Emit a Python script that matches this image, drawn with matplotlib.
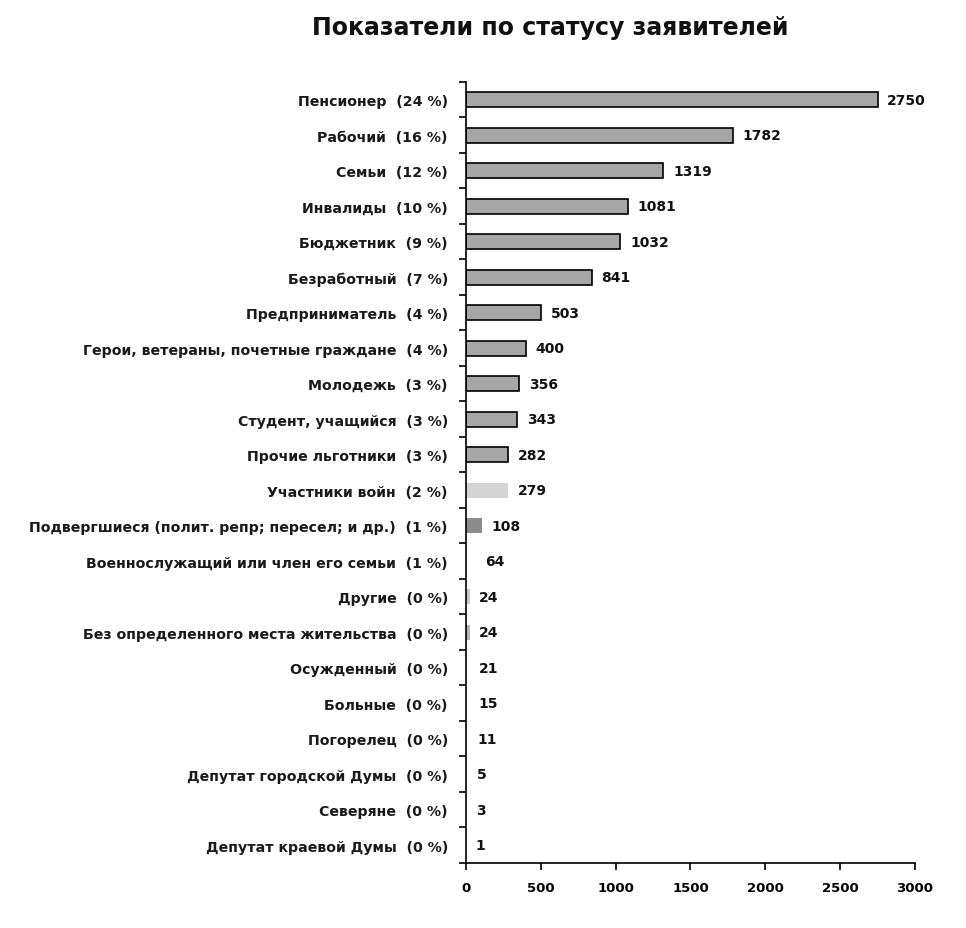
import numpy as np
import matplotlib.pyplot as plt

plt.rcParams['font.family'] = ['DejaVu Sans']

categories = [
    "Пенсионер", "Рабочий", "Семьи", "Инвалиды", "Бюджетник", "Безработный",
    "Предприниматель", "Герои, ветераны, почетные граждане", "Молодежь",
    "Студент, учащийся", "Прочие льготники", "Участники войн",
    "Подвергшиеся (полит. репр; пересел; и др.)",
    "Военнослужащий или член его семьи", "Другие",
    "Без определенного места жительства", "Осужденный", "Больные",
    "Погорелец", "Депутат городской Думы", "Северяне", "Депутат краевой Думы",
]
percents = [24, 16, 12, 10, 9, 7, 4, 4, 3, 3, 3, 2, 1, 1, 0, 0, 0, 0, 0, 0, 0, 0]
values = [2750, 1782, 1319, 1081, 1032, 841, 503, 400, 356, 343, 282, 279,
          108, 64, 24, 24, 21, 15, 11, 5, 3, 1]

# odd looking bars in the original (no border, other shades)
face = ['#a6a6a6'] * 11 + ['#d4d4d4', '#8c8c8c', 'white', '#c8c8c8', '#b4b4b4'] + ['white'] * 6
edge = ['black'] * 11 + ['none'] * 11

fig = plt.figure(figsize=(9.66, 9.29), dpi=100)
ax = fig.add_axes([0.4824, 0.070, 0.4648, 0.8407])

n = len(values)
y = np.arange(n)
ax.barh(y, values, height=0.43, color=face, edgecolor=edge, linewidth=1.2)

for yi, v in zip(y, values):
    ax.annotate(str(v), (v, yi), xytext=(7, 0), textcoords='offset points',
                va='center', ha='left', fontsize=10, fontweight='bold', color='#111111')

labels = [f"{c}  ({p} %)" for c, p in zip(categories, percents)]
ax.set_yticks(y)
ax.set_yticklabels(labels, fontsize=10.2, fontweight='bold', color='#1a1a1a')
ax.set_yticks(np.arange(-0.5, n, 1), minor=True)
ax.tick_params(axis='y', which='major', length=0, pad=13)
ax.tick_params(axis='y', which='minor', length=5, width=1.2, direction='out')
ax.set_ylim(n - 0.5, -0.5)

ax.set_xlim(0, 3000)
ax.set_xticks(np.arange(0, 3001, 500))
ax.tick_params(axis='x', length=5, width=1.2, labelsize=9.5, pad=8)
for t in ax.get_xticklabels():
    t.set_fontweight('bold')

for s in ['top', 'right']:
    ax.spines[s].set_visible(False)
for s in ['left', 'bottom']:
    ax.spines[s].set_linewidth(1.2)

fig.text(0.570, 0.970, "Показатели по статусу заявителей", ha='center', va='center',
         fontsize=17, fontweight='bold', color='#111111')

fig.savefig("out.png", dpi=100)
